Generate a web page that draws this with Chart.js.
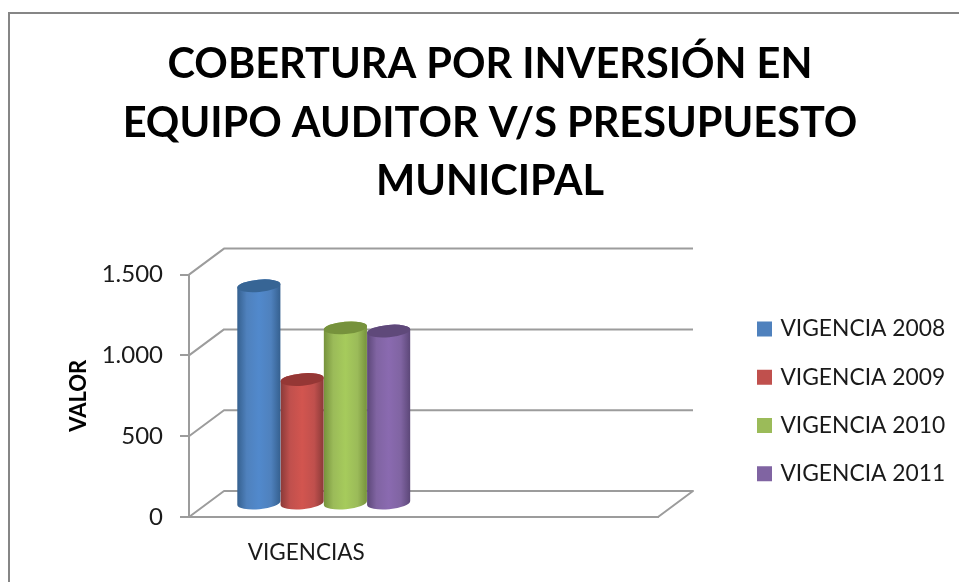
<!DOCTYPE html>
<html><head><meta charset="utf-8">
<style>
html,body{margin:0;padding:0;background:#fff;overflow:hidden}
#wrap{position:relative;width:959px;height:582px}
#frame{position:absolute;left:8px;top:12px;right:-4px;bottom:-4px;border:2px solid #868686;box-sizing:border-box}
canvas{position:absolute;left:0;top:0;filter:blur(0.4px)}
</style>
<script src="https://cdn.jsdelivr.net/npm/chart.js@4"></script>
</head><body>
<div id="wrap"><div id="frame"></div><canvas id="c" width="959" height="582"></canvas></div>
<script>
const categories = ['VIGENCIAS', ''];
const vigencia2008 = [1350, null];
const vigencia2009 = [770, null];
const vigencia2010 = [1090, null];
const vigencia2011 = [1070, null];
const seriesNames = ['VIGENCIA 2008','VIGENCIA 2009','VIGENCIA 2010','VIGENCIA 2011'];
const titleLines = ['COBERTURA POR INVERSIÓN EN','EQUIPO AUDITOR V/S PRESUPUESTO','MUNICIPAL'];
const tickLabels = {0:'0',500:'500',1000:'1.000',1500:'1.500'};
const seriesColors = ['#4F81BD','#C0504D','#9BBB59','#8064A2'];
const edgeColors = ['#35608f','#8a3a38','#76923c','#5c4778'];
const lightColors = ['#5189cc','#d2554f','#a6cb5c','#8a6ab0'];
const capColors = ['#376595','#953735','#76923C','#5F497A'];

const DX = 35, DY = 26, GRID = '#9c9c9c';

const scene3d = {
  id:'scene3d',
  beforeDatasetsDraw(chart){
    const {ctx, chartArea:a, scales:{y}} = chart;
    ctx.save();
    ctx.strokeStyle = GRID; ctx.lineWidth = 2; ctx.lineJoin='round';
    y.ticks.forEach(t=>{
      const py = y.getPixelForValue(t.value);
      ctx.beginPath();
      ctx.moveTo(a.left,py);
      ctx.lineTo(a.left+DX,py-DY);
      ctx.lineTo(a.right+DX,py-DY);
      if(t.value===0) ctx.lineTo(a.right,py);
      ctx.stroke();
    });
    ctx.restore();
  },
  beforeDatasetDraw(chart,args){
    const {ctx} = chart;
    const i = args.index;
    chart.getDatasetMeta(i).data.forEach((bar,k)=>{
      if(chart.data.datasets[i].data[k]==null) return;
      const rx = bar.width/2, ry = 6.2, rot = -5*Math.PI/180;
      const cx = bar.x + DX/2;
      const topY = bar.y - DY/2, baseY = bar.base - DY/2;
      const g = ctx.createLinearGradient(cx-rx,0,cx+rx,0);
      g.addColorStop(0,edgeColors[i]);
      g.addColorStop(0.22,seriesColors[i]);
      g.addColorStop(0.5,lightColors[i]);
      g.addColorStop(0.78,seriesColors[i]);
      g.addColorStop(1,edgeColors[i]);
      ctx.save();
      ctx.beginPath();
      ctx.ellipse(cx,baseY,rx,ry,rot,0,Math.PI);
      ctx.ellipse(cx,topY,rx,ry,rot,Math.PI,2*Math.PI);
      ctx.closePath();
      ctx.fillStyle = g; ctx.fill();
      ctx.beginPath();
      ctx.ellipse(cx,topY,rx,ry,rot,0,2*Math.PI);
      ctx.fillStyle = capColors[i]; ctx.fill();
      ctx.restore();
    });
    return false;
  },
  beforeLayout(chart){
    const l = chart.legend;
    if(!l._fitWrapped){
      const fit = l.fit;
      l.fit = function(){ fit.call(this); this.width = 301; };
      l._fitWrapped = true;
    }
  },
  afterLayout(chart){
    const l = chart.legend, p = l.options.labels.padding;
    l.left = 760 - p;
    l.top = 317.5 - p;
  }
};

new Chart(document.getElementById('c'),{
  type:'bar',
  data:{labels:categories,datasets:seriesNames.map((name,i)=>({
    label:name,
    data:[vigencia2008,vigencia2009,vigencia2010,vigencia2011][i],
    backgroundColor:seriesColors[i],borderColor:seriesColors[i],borderWidth:6
  }))},
  plugins:[scene3d],
  options:{
    responsive:false,animation:false,
    layout:{padding:{left:21,right:0,top:0,bottom:0}},
    datasets:{bar:{categoryPercentage:0.738,barPercentage:1}},
    plugins:{
      title:{display:true,text:titleLines,color:'#000',
        font:{family:'Lato',weight:'bold',size:41.5,lineHeight:1.4},
        padding:{top:36,bottom:64.3}},
      legend:{position:'right',align:'start',
        labels:{boxWidth:9,boxHeight:9,padding:25.5,color:'#1a1a1a',
          font:{family:'Lato',size:22.8}}},
      tooltip:{enabled:false}
    },
    scales:{
      x:{grid:{display:false},
        border:{display:true,color:GRID,width:2},
        ticks:{color:'#1a1a1a',padding:14,autoSkip:false,maxRotation:0,font:{family:'Lato',size:22.5}},
        afterFit(s){s.height=65;}},
      y:{min:0,max:1500,
        grid:{drawOnChartArea:false,tickLength:9,color:GRID,lineWidth:2},
        border:{display:true,color:GRID,width:2},
        ticks:{stepSize:500,padding:17,color:'#1a1a1a',font:{family:'Lato',size:24},
          callback:v=>tickLabels[v]},
        title:{display:true,text:'VALOR',color:'#000',padding:{top:45,bottom:0},font:{family:'Lato',weight:'bold',size:22}},
        afterFit(s){s.width=168;}}
    }
  }
});
</script>
</body></html>
